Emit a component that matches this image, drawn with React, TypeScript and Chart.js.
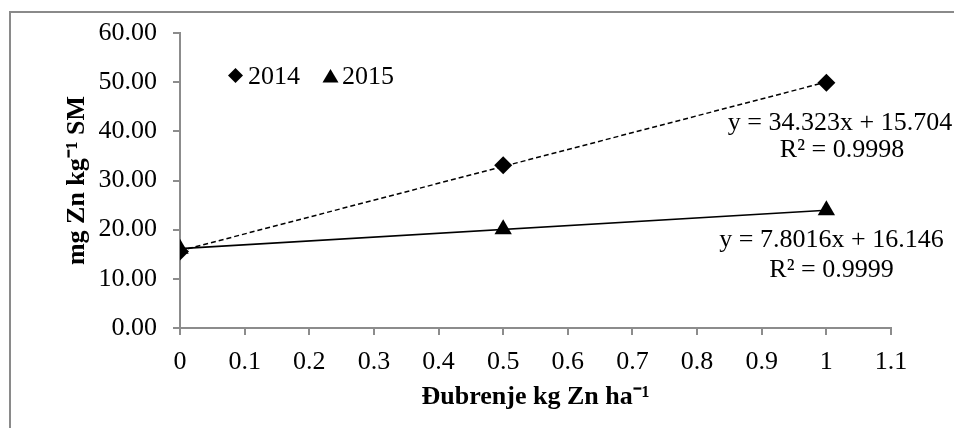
import React, { useEffect, useRef } from "react";
import { Chart, registerables } from "chart.js";

Chart.register(...registerables);

// ---- data ----
const doses = [0, 0.5, 1];
const zn2014 = [15.58, 33.12, 49.9];
const zn2015 = [16.12, 20.09, 23.93];
const seriesNames = ["2014", "2015"];
const trendSlopes = [34.323, 7.8016];
const trendIntercepts = [15.704, 16.146];
const rSquared = ["0.9998", "0.9999"];
const trendRange = [0, 1];
const yAxisTitle = "mg Zn kg⁻¹ SM";
const xAxisTitle = "Đubrenje kg Zn ha⁻¹";

const SERIF = "'Liberation Serif', 'Times New Roman', serif";

const toPoints = (xs: number[], ys: number[]) => xs.map((x, i) => ({ x, y: ys[i] }));
const trendPoints = (k: number) =>
  trendRange.map((x) => ({ x, y: trendSlopes[k] * x + trendIntercepts[k] }));

const overlayPlugin = {
  id: "overlay",
  beforeDraw(chart: any) {
    const ctx = chart.ctx;
    ctx.save();
    ctx.strokeStyle = "#8a8a8a";
    ctx.lineWidth = 2;
    ctx.beginPath();
    ctx.moveTo(10, chart.height);
    ctx.lineTo(10, 12);
    ctx.lineTo(chart.width, 12);
    ctx.stroke();
    ctx.restore();
  },
  afterDraw(chart: any) {
    const ctx = chart.ctx;
    const a = chart.chartArea;
    ctx.save();
    ctx.fillStyle = "#000";
    ctx.font = `26px ${SERIF}`;
    ctx.textBaseline = "alphabetic";
    ctx.textAlign = "left";
    // legend: diamond + 2014
    const ly = a.top + 42.5;
    const dx = a.left + 55.5;
    ctx.beginPath();
    ctx.moveTo(dx - 7.5, ly);
    ctx.lineTo(dx, ly - 7.5);
    ctx.lineTo(dx + 7.5, ly);
    ctx.lineTo(dx, ly + 7.5);
    ctx.closePath();
    ctx.fill();
    ctx.fillText(seriesNames[0], a.left + 68, ly + 8);
    // triangle + 2015
    const tx = a.left + 150.5;
    ctx.beginPath();
    ctx.moveTo(tx, ly - 6.5);
    ctx.lineTo(tx + 8, ly + 7);
    ctx.lineTo(tx - 8, ly + 7);
    ctx.closePath();
    ctx.fill();
    ctx.fillText(seriesNames[1], a.left + 162, ly + 8);

    // trendline labels
    ctx.textAlign = "center";
    const labelPos = [
      { x: a.left + 660, y1: 130, x2: a.left + 662, y2: 157 },
      { x: a.left + 651.5, y1: 247, x2: a.left + 651.5, y2: 277 },
    ];
    for (let k = 0; k < 2; k++) {
      const p = labelPos[k];
      ctx.fillText(`y = ${trendSlopes[k]}x + ${trendIntercepts[k]}`, p.x, p.y1);
      ctx.fillText(`R² = ${rSquared[k]}`, p.x2, p.y2);
    }
    ctx.restore();
  },
};

export default function App() {
  const ref = useRef<HTMLCanvasElement | null>(null);

  useEffect(() => {
    if (!ref.current) return;
    const axisColor = "#8c8c8c";
    const chart = new Chart(ref.current, {
      type: "scatter",
      data: {
        datasets: [
          {
            label: seriesNames[0],
            data: toPoints(doses, zn2014),
            pointStyle: "rectRot",
            pointRadius: 9,
            pointBorderWidth: 0,
            backgroundColor: "#000",
            borderColor: "#000",
            showLine: false,
          },
          {
            label: seriesNames[1],
            data: toPoints(doses, zn2015),
            pointStyle: "triangle",
            pointRadius: 10,
            pointBorderWidth: 0,
            backgroundColor: "#000",
            borderColor: "#000",
            showLine: false,
          },
          {
            label: "trend " + seriesNames[0],
            data: trendPoints(0),
            showLine: true,
            pointRadius: 0,
            borderColor: "#000",
            borderWidth: 1.5,
            borderDash: [5, 3],
          },
          {
            label: "trend " + seriesNames[1],
            data: trendPoints(1),
            showLine: true,
            pointRadius: 0,
            borderColor: "#000",
            borderWidth: 1.6,
          },
        ],
      },
      options: {
        animation: false,
        responsive: false,
        devicePixelRatio: 1,
        layout: { padding: { left: 0, top: 33, right: 63, bottom: 0 } },
        plugins: {
          legend: { display: false },
          tooltip: { enabled: false },
        },
        scales: {
          x: {
            type: "linear",
            min: 0,
            max: 1.1,
            ticks: {
              stepSize: 0.1,
              color: "#000",
              padding: 12,
              font: { family: SERIF, size: 26 },
              callback: (v: any) => String(Number(Number(v).toFixed(1))),
            },
            grid: {
              drawOnChartArea: false,
              drawTicks: true,
              tickLength: 7,
              color: axisColor,
              lineWidth: 2,
            },
            border: { display: true, color: axisColor, width: 2 },
            title: {
              display: true,
              text: xAxisTitle,
              color: "#000",
              font: { family: SERIF, size: 26, weight: "bold" },
              padding: { top: 0, bottom: 15 },
            },
            afterFit: (s: any) => {
              s.height = 100;
            },
          },
          y: {
            type: "linear",
            min: 0,
            max: 60,
            ticks: {
              stepSize: 10,
              color: "#000",
              padding: 16,
              font: { family: SERIF, size: 26 },
              callback: (v: any) => Number(v).toFixed(2),
            },
            grid: {
              drawOnChartArea: false,
              drawTicks: true,
              tickLength: 7,
              color: axisColor,
              lineWidth: 2,
            },
            border: { display: true, color: axisColor, width: 2 },
            title: {
              display: true,
              text: yAxisTitle,
              color: "#000",
              font: { family: SERIF, size: 26, weight: "bold" },
              padding: { top: 62, bottom: 0 },
            },
            afterFit: (s: any) => {
              s.width = 180;
            },
          },
        },
      },
      plugins: [overlayPlugin],
    } as any);
    return () => chart.destroy();
  }, []);

  return (
    <div style={{ position: "absolute", left: 0, top: 0, width: 954, height: 428, background: "#fff" }}>
      <canvas ref={ref} width={954} height={428} style={{ width: 954, height: 428, display: "block" }} />
    </div>
  );
}
